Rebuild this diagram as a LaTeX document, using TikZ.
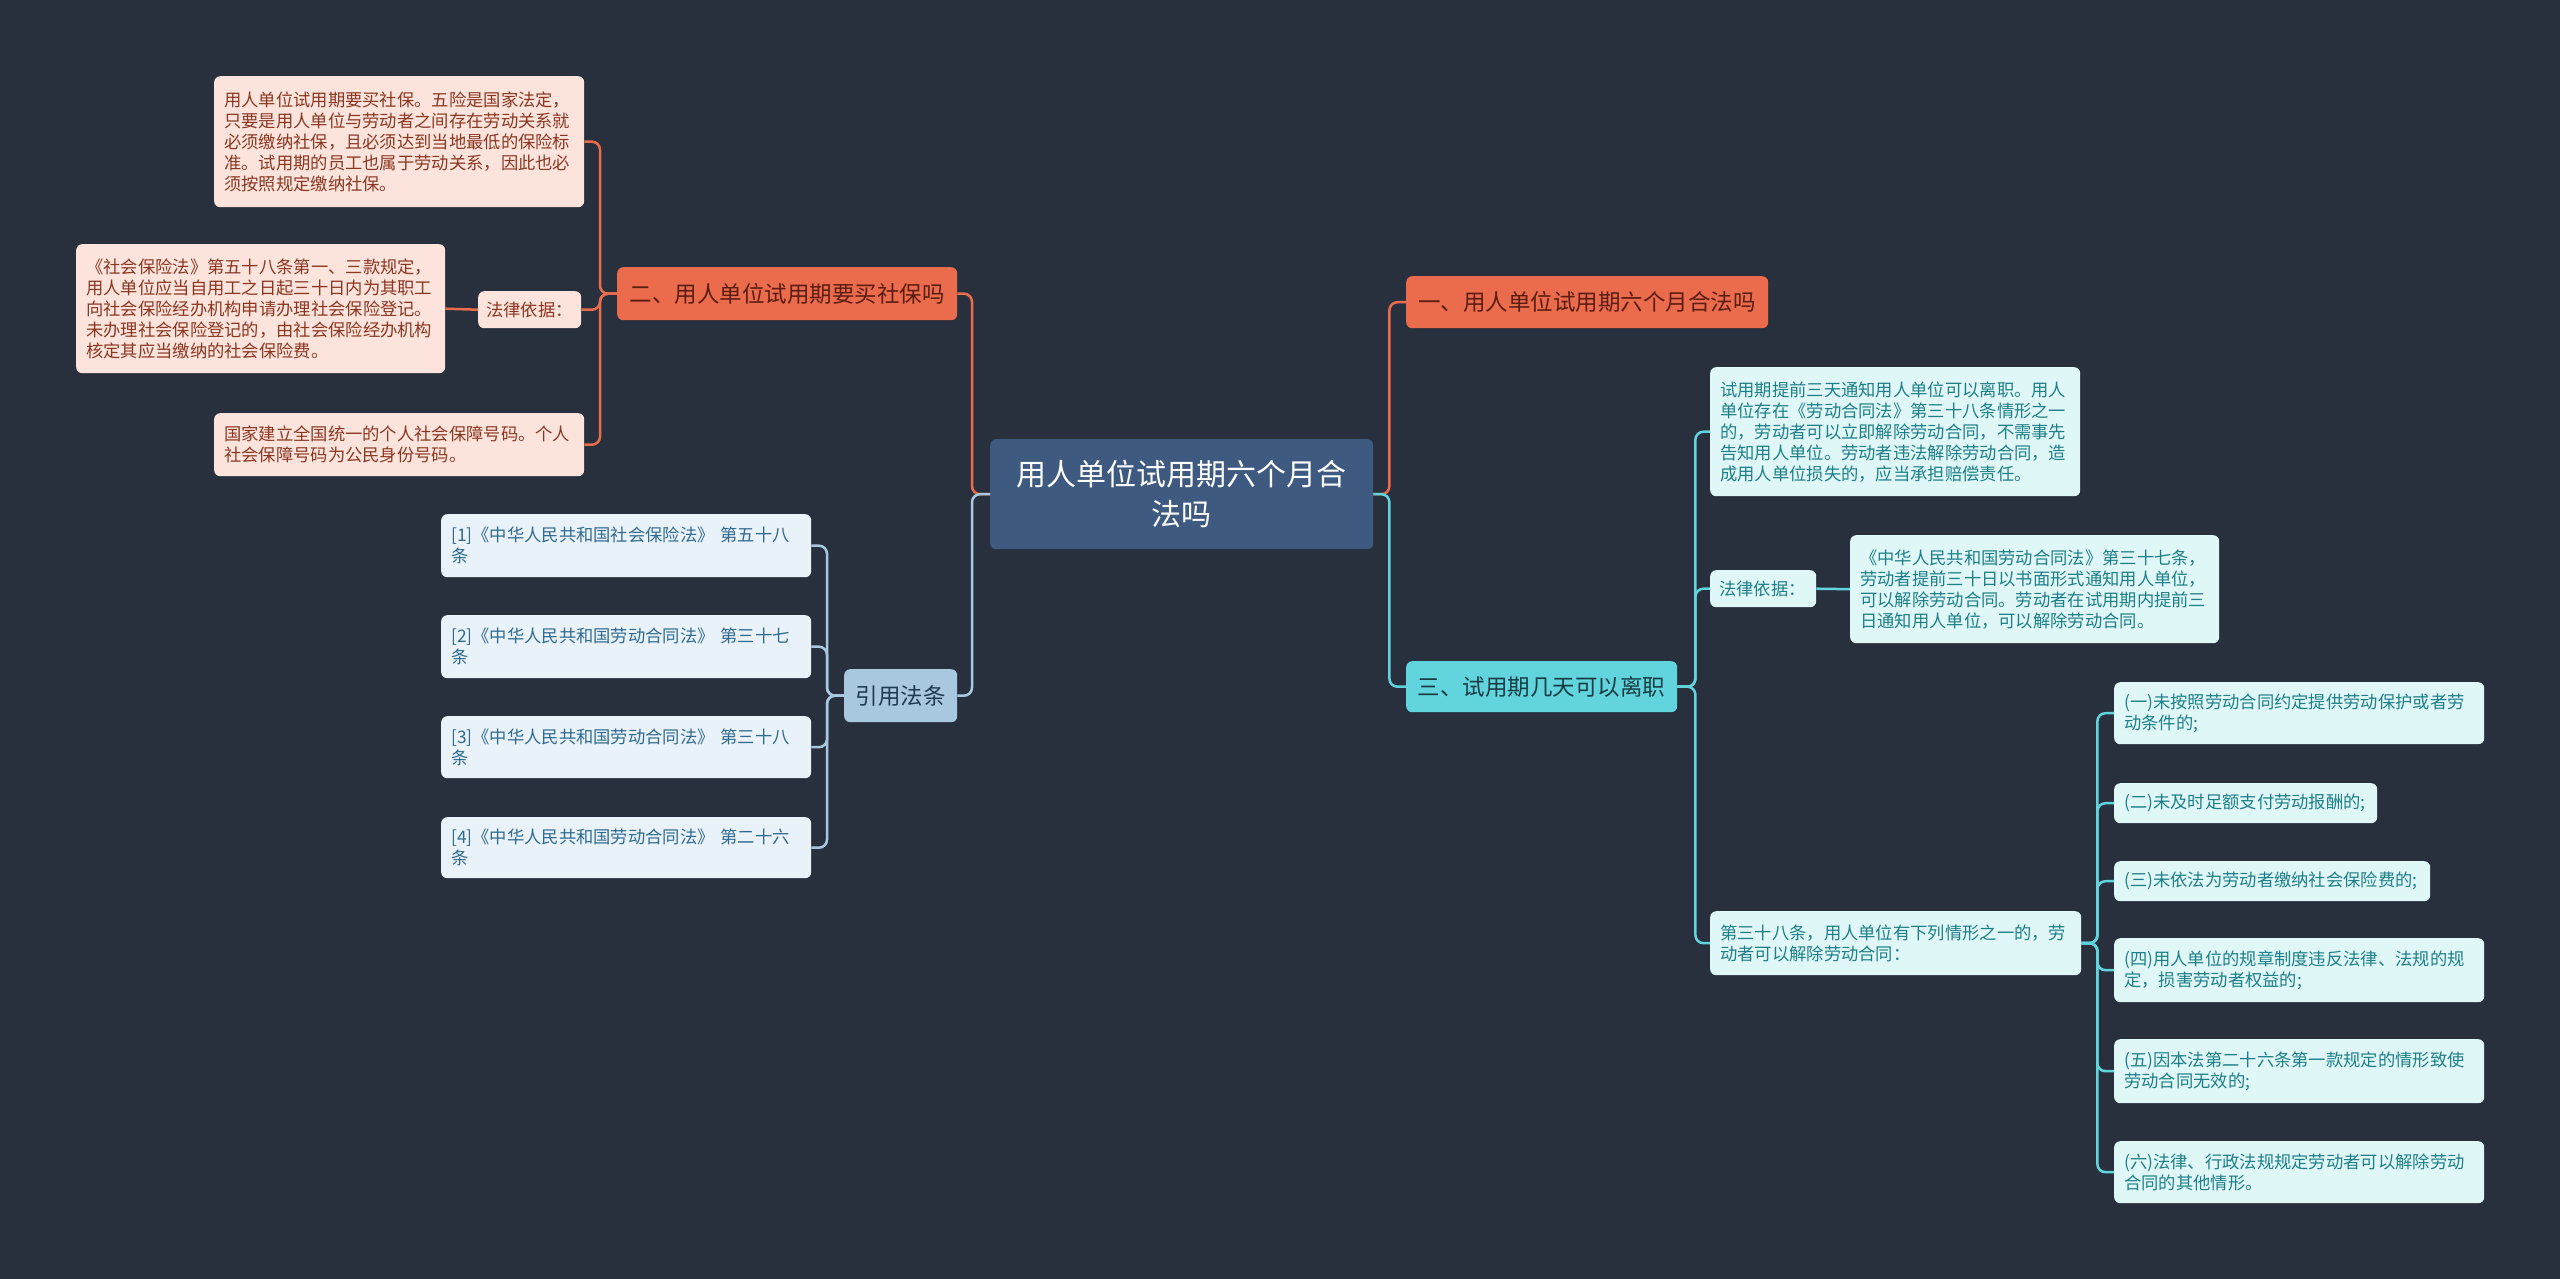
\documentclass[tikz,border=0pt]{standalone}
\usepackage{fontspec}
\setmainfont{Noto Sans CJK SC}
\definecolor{bg}{HTML}{28303E}
\definecolor{cfill}{HTML}{3F5A80}
\definecolor{orng}{HTML}{EB6B4D}
\definecolor{otext}{HTML}{5A1D10}
\definecolor{pfill}{HTML}{FCE4DC}
\definecolor{ptext}{HTML}{8A3722}
\definecolor{cyan1}{HTML}{62D4DD}
\definecolor{ctext}{HTML}{173C42}
\definecolor{cyfill}{HTML}{E0F7F8}
\definecolor{cytext}{HTML}{1D7F87}
\definecolor{lblue}{HTML}{A8C8E0}
\definecolor{btext}{HTML}{1E3A52}
\definecolor{rfill}{HTML}{EAF2F9}
\definecolor{rtext}{HTML}{2F6A8F}
\begin{document}
\begin{tikzpicture}[x=1pt,y=-1pt,
  basebox/.style={rounded corners=6, anchor=north west, inner xsep=10, inner ysep=0},
  leaf/.style={basebox, align=left, font=\fontsize{17.3}{21}\selectfont},
  pleaf/.style={leaf, fill=pfill, text=ptext},
  cleaf/.style={leaf, fill=cyfill, text=cytext},
  rleaf/.style={leaf, fill=rfill, text=rtext},
  title/.style={basebox, align=center, font=\fontsize{22.5}{27}\selectfont},
  conn/.style={line width=2.5, rounded corners=8},
]
\useasboundingbox[fill=bg] (0,0) rectangle (2560,1279);

% center
\node[basebox, fill=cfill, text=white, align=center, text width=363, minimum height=110,
  font=\fontsize{30}{40}\selectfont] (c) at (990,439) {用人单位试用期六个月合\\法吗};

% level 1
\node[title, fill=orng, text=otext, text width=320, minimum height=53] (n2) at (617,267) {二、用人单位试用期要买社保吗};
\node[title, fill=lblue, text=btext, text width=93, minimum height=53] (ref) at (844,669) {引用法条};
\node[title, fill=orng, text=otext, text width=342, minimum height=52] (n1) at (1406,276) {一、用人单位试用期六个月合法吗};
\node[title, fill=cyan1, text=ctext, text width=251, minimum height=51] (n3) at (1406,661) {三、试用期几天可以离职};

% left orange branch
\node[pleaf, text width=350, minimum height=131] (p1) at (214,76) {用人单位试用期要买社保。五险是国家法定，\\只要是用人单位与劳动者之间存在劳动关系就\\必须缴纳社保，且必须达到当地最低的保险标\\准。试用期的员工也属于劳动关系，因此也必\\须按照规定缴纳社保。};
\node[pleaf, inner xsep=8, text width=87, minimum height=37] (law1) at (478,291) {法律依据：};
\node[pleaf, text width=349, minimum height=129] (p2) at (76,244) {《社会保险法》第五十八条第一、三款规定，\\用人单位应当自用工之日起三十日内为其职工\\向社会保险经办机构申请办理社会保险登记。\\未办理社会保险登记的，由社会保险经办机构\\核定其应当缴纳的社会保险费。};
\node[pleaf, text width=350, minimum height=63] (p3) at (214,413) {国家建立全国统一的个人社会保障号码。个人\\社会保障号码为公民身份号码。};

% references
\node[rleaf, text width=350, minimum height=63] (r1) at (441,514) {[1]《中华人民共和国社会保险法》~第五十八\\条};
\node[rleaf, text width=350, minimum height=63] (r2) at (441,615) {[2]《中华人民共和国劳动合同法》~第三十七\\条};
\node[rleaf, text width=350, minimum height=62] (r3) at (441,716) {[3]《中华人民共和国劳动合同法》~第三十八\\条};
\node[rleaf, text width=350, minimum height=61] (r4) at (441,817) {[4]《中华人民共和国劳动合同法》~第二十六\\条};

% right cyan branch
\node[cleaf, text width=350, minimum height=129] (a) at (1710,367) {试用期提前三天通知用人单位可以离职。用人\\单位存在《劳动合同法》第三十八条情形之一\\的，劳动者可以立即解除劳动合同，不需事先\\告知用人单位。劳动者违法解除劳动合同，造\\成用人单位损失的，应当承担赔偿责任。};
\node[cleaf, inner xsep=9, text width=88, minimum height=37] (law2) at (1710,570) {法律依据：};
\node[cleaf, text width=349, minimum height=108] (bc) at (1850,535) {《中华人民共和国劳动合同法》第三十七条，\\劳动者提前三十日以书面形式通知用人单位，\\可以解除劳动合同。劳动者在试用期内提前三\\日通知用人单位，可以解除劳动合同。};
\node[cleaf, text width=351, minimum height=64] (cc) at (1710,911) {第三十八条，用人单位有下列情形之一的，劳\\动者可以解除劳动合同：};
\node[cleaf, text width=350, minimum height=62] (k1) at (2114,682) {(一)未按照劳动合同约定提供劳动保护或者劳\\动条件的;};
\node[cleaf, text width=243, minimum height=40] (k2) at (2114,783) {(二)未及时足额支付劳动报酬的;};
\node[cleaf, text width=296, minimum height=40] (k3) at (2114,861) {(三)未依法为劳动者缴纳社会保险费的;};
\node[cleaf, text width=350, minimum height=64] (k4) at (2114,938) {(四)用人单位的规章制度违反法律、法规的规\\定，损害劳动者权益的;};
\node[cleaf, text width=350, minimum height=64] (k5) at (2114,1039) {(五)因本法第二十六条第一款规定的情形致使\\劳动合同无效的;};
\node[cleaf, text width=350, minimum height=62] (k6) at (2114,1141) {(六)法律、行政法规规定劳动者可以解除劳动\\合同的其他情形。};

% connectors
\draw[conn, draw=orng] (c.west) -- ++(-18,0) |- (n2.east);
\draw[conn, draw=lblue] (c.west) -- ++(-18,0) |- (ref.east);
\draw[conn, draw=orng] (c.east) -- ++(16,0) |- (n1.west);
\draw[conn, draw=cyan1] (c.east) -- ++(16,0) |- (n3.west);

\foreach \t in {p1,law1,p3} \draw[conn, draw=orng] (n2.west) -- ++(-17,0) |- (\t.east);
\draw[conn, draw=orng] (law1.west) -- (p2.east);

\foreach \t in {r1,r2,r3,r4} \draw[conn, draw=lblue] (ref.west) -- ++(-17,0) |- (\t.east);

\foreach \t in {a,law2,cc} \draw[conn, draw=cyan1] (n3.east) -- ++(18,0) |- (\t.west);
\draw[conn, draw=cyan1] (law2.east) -- (bc.west);
\foreach \t in {k1,k2,k3,k4,k5,k6} \draw[conn, draw=cyan1] (cc.east) -- ++(16,0) |- (\t.west);
\end{tikzpicture}
\end{document}
